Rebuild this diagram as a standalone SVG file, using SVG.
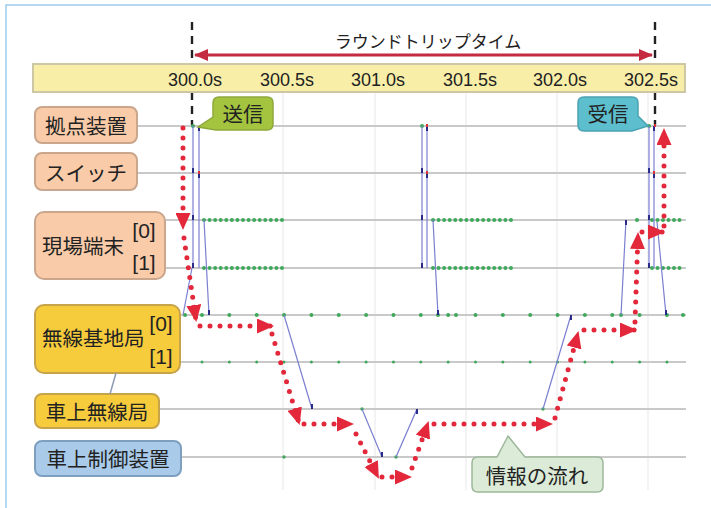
<svg xmlns="http://www.w3.org/2000/svg" width="711" height="508" viewBox="0 0 711 508">
<defs>
<style>
.jp{font-family:"Noto Sans CJK JP","Noto Sans",sans-serif;fill:#222;}
.tick{font-family:"Liberation Sans",Arial,sans-serif;font-size:18px;fill:#222;text-anchor:middle;}
.idx{font-family:"Liberation Sans",Arial,sans-serif;font-size:21px;fill:#222;text-anchor:middle;}
.row{stroke:#c9c9c9;stroke-width:2;fill:none;}
.grid{stroke:#efefef;stroke-width:1.5;}
.msg{stroke:#7b7fd0;stroke-width:1.2;fill:none;}
.gd{stroke:#3fa85a;stroke-width:4;stroke-linecap:round;fill:none;}
.gs{stroke:#3fa85a;stroke-width:3;stroke-linecap:round;fill:none;}
.flow{stroke:#e2283a;stroke-width:5;stroke-linecap:round;stroke-dasharray:0 10;fill:none;marker-end:url(#ah);}
.dash{stroke:#222;stroke-width:2.4;stroke-dasharray:8 6;}
.peach{fill:#f9cba8;stroke:#c9a68c;stroke-width:2;}
.gold{fill:#f6cc3c;stroke:#c7a34a;stroke-width:2;}
.blue{fill:#a9cbe9;stroke:#7f9fc0;stroke-width:2;}
.ep{fill:#2b2b8a;}
.epr{fill:#d8323a;}
</style>
<marker id="ah" viewBox="0 0 17 15" refX="15" refY="7.5" markerWidth="17" markerHeight="15" markerUnits="userSpaceOnUse" orient="auto">
<path d="M0,0 L17,7.5 L0,15 Z" fill="#e2283a"/>
</marker>
<marker id="ta" viewBox="0 0 14 12" refX="13" refY="6" markerWidth="14" markerHeight="12" markerUnits="userSpaceOnUse" orient="auto-start-reverse">
<path d="M0,0 L14,6 L0,12 Z" fill="#c42a40"/>
</marker>
</defs>
<rect x="0" y="0" width="711" height="508" fill="#ffffff"/>
<path d="M6,508 V5 H711" fill="none" stroke="#9ccbea" stroke-width="1.5"/>

<g id="grid">
<line class="grid" x1="283" y1="92" x2="283" y2="490"/>
<line class="grid" x1="375" y1="92" x2="375" y2="490"/>
<line class="grid" x1="466" y1="92" x2="466" y2="490"/>
<line class="grid" x1="557" y1="92" x2="557" y2="490"/>
<line class="grid" x1="648" y1="92" x2="648" y2="490"/>
</g>

<g id="markers-dashed">
<line class="dash" x1="192" y1="22" x2="192" y2="126"/>
<line class="dash" x1="655" y1="22" x2="655" y2="126"/>
</g>

<g id="title">
<text class="jp" x="428" y="48" font-size="17" text-anchor="middle">ラウンドトリップタイム</text>
<line x1="195" y1="55" x2="652" y2="55" stroke="#c42a40" stroke-width="3" marker-start="url(#ta)" marker-end="url(#ta)"/>
</g>
<g id="axis">
<rect x="33" y="64" width="652" height="28" fill="#f8eea8" stroke="#cdc7a6" stroke-width="2"/>
<text class="tick" x="195" y="86">300.0s</text>
<text class="tick" x="287" y="86">300.5s</text>
<text class="tick" x="378" y="86">301.0s</text>
<text class="tick" x="470" y="86">301.5s</text>
<text class="tick" x="560" y="86">302.0s</text>
<text class="tick" x="651" y="86">302.5s</text>
</g>

<g id="rows">
<line class="row" x1="137" y1="126" x2="686" y2="126"/>
<line class="row" x1="137" y1="173" x2="686" y2="173"/>
<line class="row" x1="165" y1="220" x2="686" y2="220"/>
<line class="row" x1="165" y1="268" x2="686" y2="268"/>
<line class="row" x1="180" y1="315" x2="686" y2="315"/>
<line class="row" x1="180" y1="362" x2="686" y2="362"/>
<line class="row" x1="159" y1="409" x2="686" y2="409"/>
<line class="row" x1="181" y1="457" x2="686" y2="457"/>
</g>

<g id="node-kyoten">
<rect class="peach" x="35" y="107" width="102" height="36" rx="7"/>
<text class="jp" x="86" y="125" font-size="20.5" text-anchor="middle" dominant-baseline="central">拠点装置</text>
</g>
<g id="node-switch">
<rect class="peach" x="35" y="153" width="102" height="37" rx="7"/>
<text class="jp" x="86" y="172" font-size="20.5" text-anchor="middle" dominant-baseline="central">スイッチ</text>
</g>
<g id="node-genba">
<rect class="peach" x="35" y="212" width="130" height="67" rx="9"/>
<text class="jp" x="42" y="245" font-size="20.5" dominant-baseline="central">現場端末</text>
<text class="idx" x="144" y="238">[0]</text>
<text class="idx" x="144" y="270">[1]</text>
</g>
<g id="node-kichi">
<rect class="gold" x="35" y="305" width="145" height="68" rx="9"/>
<text class="jp" x="42" y="337" font-size="20.5" dominant-baseline="central">無線基地局</text>
<text class="idx" x="161" y="331">[0]</text>
<text class="idx" x="161" y="364">[1]</text>
</g>
<g id="node-shajomusen">
<rect class="gold" x="35" y="394" width="124" height="34" rx="7"/>
<text class="jp" x="97" y="411" font-size="20.5" text-anchor="middle" dominant-baseline="central">車上無線局</text>
</g>
<g id="node-shajoseigyo">
<rect class="blue" x="35" y="441" width="146" height="35" rx="7"/>
<text class="jp" x="108" y="458" font-size="20.5" text-anchor="middle" dominant-baseline="central">車上制御装置</text>
</g>

<g id="connectors">
<line x1="116" y1="373" x2="110" y2="394" stroke="#8d9bb3" stroke-width="1.5"/>

<line class="gd" x1="204" y1="220" x2="282" y2="220" stroke-dasharray="0 5.57"/>
<line class="gd" x1="204" y1="268" x2="282" y2="268" stroke-dasharray="0 5.57"/>
<line class="gd" x1="433" y1="220" x2="511" y2="220" stroke-dasharray="0 5.57"/>
<line class="gd" x1="433" y1="268" x2="511" y2="268" stroke-dasharray="0 5.57"/>
<line class="gd" x1="652" y1="220" x2="685" y2="220" stroke-dasharray="0 5.5"/>
<line class="gd" x1="652" y1="268" x2="685" y2="268" stroke-dasharray="0 5.5"/>
<circle cx="637" cy="220" r="2" fill="#3fa85a"/>
<line class="gd" x1="202" y1="315" x2="667" y2="315" stroke-dasharray="0 27.35"/>
<line class="gs" x1="202" y1="362" x2="667" y2="362" stroke-dasharray="0 27.35"/>
<g fill="#3fa85a">
<circle cx="185" cy="315" r="2"/><circle cx="438" cy="315" r="2"/><circle cx="456" cy="315" r="2"/>
<circle cx="621" cy="315" r="2"/><circle cx="683" cy="315" r="2"/>
<circle cx="362" cy="409" r="1.7"/><circle cx="543" cy="409" r="1.7"/>
<circle cx="284" cy="457" r="1.7"/><circle cx="396" cy="457" r="1.7"/>
<circle cx="193" cy="126" r="2"/><circle cx="649" cy="126" r="2"/><circle cx="422" cy="126" r="2"/>
</g>

<line class="msg" x1="193" y1="126" x2="193" y2="268"/>
<line class="msg" x1="199" y1="126" x2="199" y2="268"/>
<line class="msg" x1="192" y1="268" x2="183" y2="315"/>
<line class="msg" x1="204" y1="220" x2="209" y2="315"/>
<line class="msg" x1="422" y1="126" x2="422" y2="268"/>
<line class="msg" x1="427" y1="126" x2="427" y2="268"/>
<line class="msg" x1="433" y1="220" x2="438" y2="315"/>
<line class="msg" x1="284" y1="315" x2="312" y2="409"/>
<line class="msg" x1="362" y1="409" x2="382" y2="457"/>
<line class="msg" x1="396" y1="457" x2="417" y2="409"/>
<line class="msg" x1="543" y1="409" x2="571" y2="315"/>
<line class="msg" x1="626" y1="220" x2="621" y2="315"/>
<line class="msg" x1="649" y1="126" x2="649" y2="268"/>
<line class="msg" x1="654" y1="126" x2="654" y2="268"/>
<line class="msg" x1="657" y1="222" x2="666" y2="315"/>

<g class="ep">
<rect x="198" y="126" width="2" height="5"/><rect x="192" y="168" width="2" height="5"/><rect x="198" y="173" width="2" height="5"/>
<rect x="192" y="215" width="2" height="5"/><rect x="192" y="263" width="2" height="5"/><rect x="208" y="310" width="2" height="5"/>
<rect x="426" y="126" width="2" height="5"/><rect x="421" y="168" width="2" height="5"/><rect x="426" y="173" width="2" height="5"/>
<rect x="421" y="215" width="2" height="5"/><rect x="421" y="263" width="2" height="5"/><rect x="437" y="310" width="2" height="5"/>
<rect x="311" y="404" width="2" height="5"/><rect x="381" y="452" width="2" height="5"/><rect x="416" y="409" width="2" height="5"/>
<rect x="570" y="315" width="2" height="5"/><rect x="625" y="220" width="2" height="5"/>
<rect x="653" y="126" width="2" height="5"/><rect x="648" y="168" width="2" height="5"/><rect x="653" y="173" width="2" height="5"/>
<rect x="648" y="215" width="2" height="5"/><rect x="648" y="263" width="2" height="5"/><rect x="665" y="310" width="2" height="5"/>
</g>
<g class="epr">
<rect x="198" y="171" width="2" height="3"/><rect x="426" y="171" width="2" height="3"/><rect x="653" y="171" width="2" height="3"/>
<rect x="426" y="124" width="2" height="3"/><rect x="654" y="124" width="2" height="3"/>
</g>

<path class="flow" d="M183,128 L183,228"/>
<path class="flow" d="M184,238 L196,320"/>
<path class="flow" d="M200,326 L272,326"/>
<path class="flow" d="M272,334 L299,423"/>
<path class="flow" d="M304,424 L352,424"/>
<path class="flow" d="M356,434 L378,477"/>
<path class="flow" d="M382,477 L410,477"/>
<path class="flow" d="M412,468 L428,423"/>
<path class="flow" d="M434,424 L551,424"/>
<path class="flow" d="M555,418 L578,333"/>
<path class="flow" d="M584,330 L635,330"/>
<path class="flow" d="M635,322 L638,234"/>
<path class="flow" d="M642,232 L663,232"/>
<path class="flow" d="M664,226 L664,130"/>
</g>

<g id="callout-soushin">
<path d="M219,97 H267 Q273,97 273,103 V124 Q273,130 267,130 H216 L198,127 L213,117 V103 Q213,97 219,97 Z" fill="#a4c43f" stroke="#8ea83a" stroke-width="1.5"/>
<text class="jp" x="243" y="113" font-size="20.5" text-anchor="middle" dominant-baseline="central">送信</text>
</g>
<g id="callout-jushin">
<path d="M584,97 H632 Q638,97 638,103 V116 L648,126 L632,131 H584 Q578,131 578,125 V103 Q578,97 584,97 Z" fill="#5dbfce" stroke="#49a3b2" stroke-width="1.5"/>
<text class="jp" x="608" y="113" font-size="20.5" text-anchor="middle" dominant-baseline="central">受信</text>
</g>
<g id="callout-flow">
<path d="M478,457 H497 L508,436 L525,457 H597 Q603,457 603,463 V486 Q603,492 597,492 H478 Q472,492 472,486 V463 Q472,457 478,457 Z" fill="#dcebd7" stroke="#9db89a" stroke-width="1.5"/>
<text class="jp" x="537" y="475" font-size="20.5" text-anchor="middle" dominant-baseline="central">情報の流れ</text>
</g>
</svg>
